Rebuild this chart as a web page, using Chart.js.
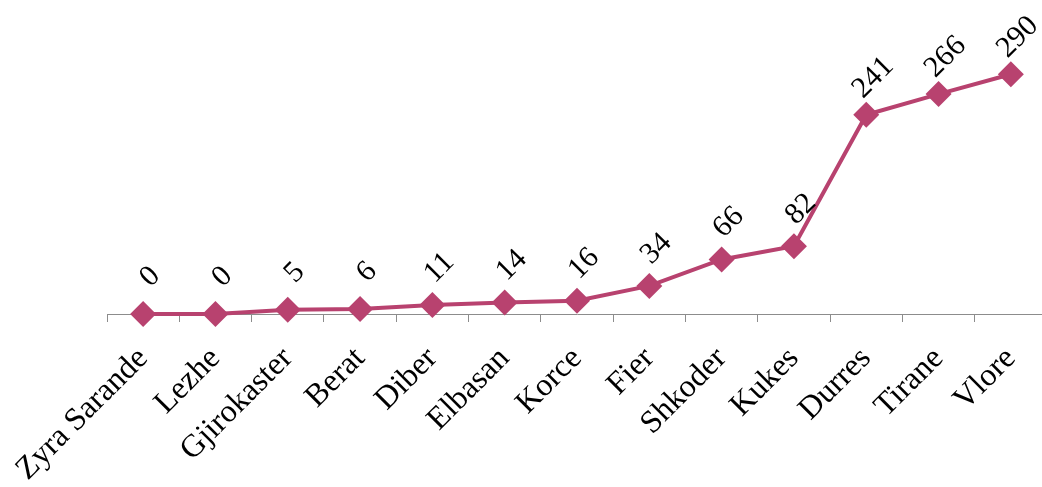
<!DOCTYPE html>
<html>
<head>
<meta charset="utf-8">
<script src="https://cdn.jsdelivr.net/npm/chart.js@4.4.0/dist/chart.umd.min.js"></script>
<style>
    html, body { margin: 0; padding: 0; background: #fff; overflow: hidden; }
    #wrap { width: 1060px; height: 487px; }
</style>
</head>
<body>
<div id="wrap"><canvas id="lineChart"></canvas></div>
<script>
const offices = ['Zyra Sarande', 'Lezhe', 'Gjirokaster', 'Berat', 'Diber', 'Elbasan', 'Korce', 'Fier', 'Shkoder', 'Kukes', 'Durres', 'Tirane', 'Vlore'];
const counts = [0, 0, 5, 6, 11, 14, 16, 34, 66, 82, 241, 266, 290];

const lineColor = '#B8426F';
const serif = '"Liberation Serif", "Times New Roman", serif';

// value labels, rotated like the original
const valueLabels = {
    id: 'valueLabels',
    afterDatasetsDraw(chart) {
        const ctx = chart.ctx;
        const meta = chart.getDatasetMeta(0);
        ctx.save();
        ctx.font = '30px ' + serif;
        ctx.fillStyle = '#000';
        ctx.textAlign = 'center';
        ctx.textBaseline = 'middle';
        meta.data.forEach((pt, i) => {
            ctx.save();
            ctx.translate(pt.x + 7, pt.y - 37);
            ctx.rotate(-Math.PI / 4);
            ctx.fillText(String(counts[i]), 0, 0);
            ctx.restore();
        });
        ctx.restore();
    }
};

new Chart(document.getElementById('lineChart'), {
    type: 'line',
    data: {
        labels: offices,
        datasets: [{
            data: counts,
            borderColor: lineColor,
            backgroundColor: lineColor,
            borderWidth: 4,
            pointStyle: 'rectRot',
            pointRadius: 13,
            pointHoverRadius: 13,
            pointBorderWidth: 0,
            tension: 0,
            clip: false
        }]
    },
    options: {
        responsive: true,
        maintainAspectRatio: false,
        animation: false,
        events: [],
        layout: { padding: { left: 107, right: 11, top: 66, bottom: 0 } },
        plugins: { legend: { display: false }, tooltip: { enabled: false } },
        scales: {
            x: {
                offset: true,
                border: { color: '#8c8c8c', width: 1 },
                grid: { offset: true, drawOnChartArea: false, tickLength: 8, color: '#8c8c8c' },
                ticks: {
                    autoSkip: false,
                    maxRotation: 45,
                    minRotation: 45,
                    padding: 18,
                    color: '#000',
                    font: { family: serif, size: 32 }
                },
                afterFit(scale) {
                    scale.paddingLeft = 0;
                    scale.paddingRight = 0;
                    scale.height = 173;
                }
            },
            y: {
                display: false,
                min: 0,
                max: 300
            }
        }
    },
    plugins: [valueLabels]
});
</script>
</body>
</html>
